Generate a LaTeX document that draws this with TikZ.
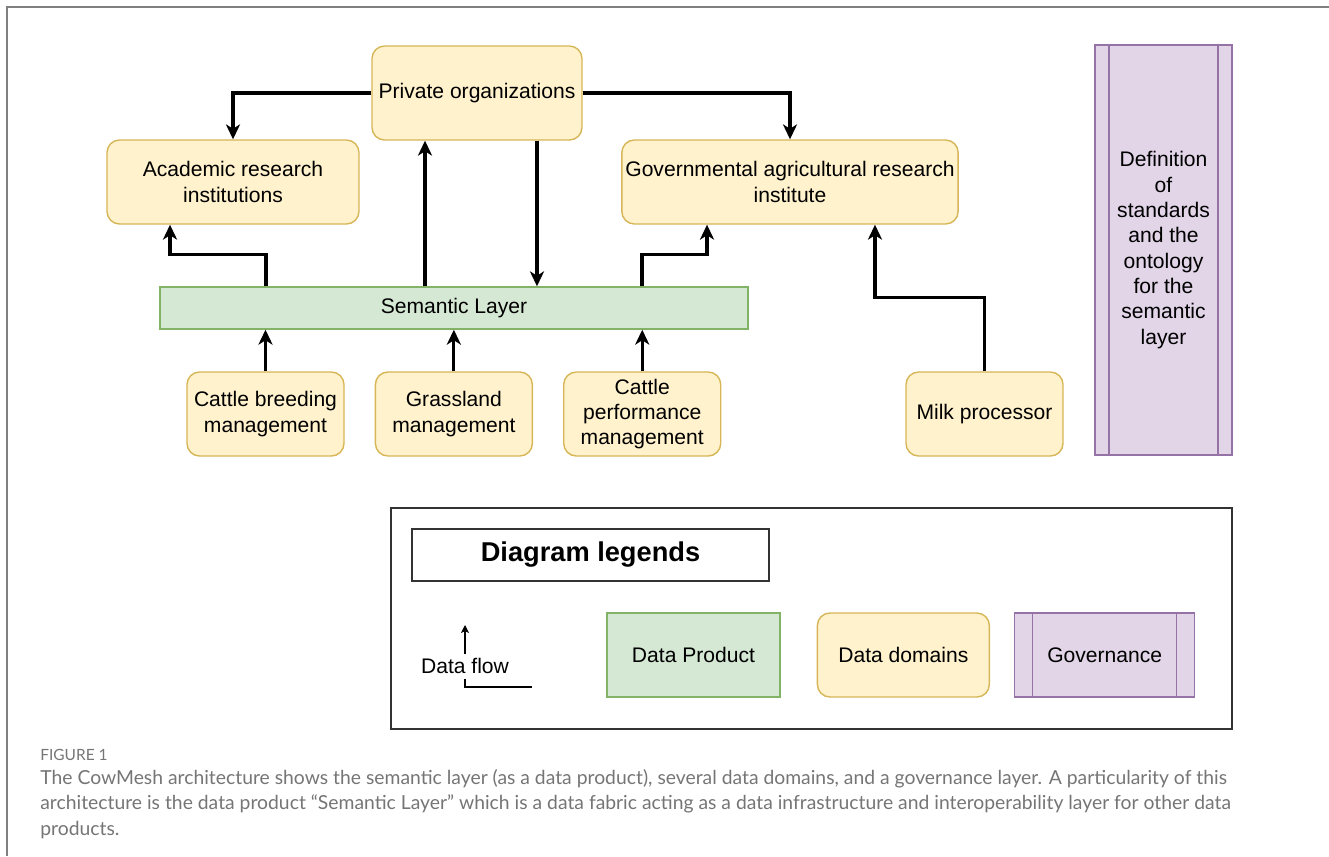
\documentclass[tikz,border=0pt]{standalone}
\usepackage{fontspec}
\setmainfont{Liberation Sans}
\newfontfamily\captionfont{Lato}
\usetikzlibrary{arrows.meta, positioning, calc}

\definecolor{domainfill}{HTML}{FFF2CC}
\definecolor{domainline}{HTML}{D6B656}
\definecolor{productfill}{HTML}{D5E8D4}
\definecolor{productline}{HTML}{82B366}
\definecolor{govfill}{HTML}{E1D5E7}
\definecolor{govline}{HTML}{9673A6}
\definecolor{captiongray}{HTML}{757575}

\begin{document}
\begin{tikzpicture}[
    x=0.02cm, y=-0.02cm,
    font=\fontsize{12}{14.4}\selectfont,
    domainbox/.style={rectangle, draw=domainline, line width=0.8pt, rounded corners=0.25cm, fill=domainfill, align=center, inner sep=2pt},
    product/.style={rectangle, draw=productline, line width=0.8pt, fill=productfill, align=center},
    govbox/.style={rectangle, draw=govline, line width=0.8pt, fill=govfill, align=center,
      path picture={\draw[govline, line width=0.8pt]
        ($(path picture bounding box.north west)+(#1,0)$) -- ($(path picture bounding box.south west)+(#1,0)$)
        ($(path picture bounding box.north east)-(#1,0)$) -- ($(path picture bounding box.south east)-(#1,0)$);}},
    frame/.style={rectangle, draw=black!80, line width=0.9pt},
    arrow/.style={-{Stealth[length=8.5pt, width=8pt, inset=2.5pt]}, line width=1.8pt},
    thinarrow/.style={-{Stealth[length=4.5pt, width=4.5pt, inset=1pt]}, line width=0.6pt}
  ]
  \useasboundingbox (0,0) rectangle (1329,856);
  \draw[black!50, line width=1.1pt] (7,856) -- (7,7) -- (1329,7);

  % data domains and the semantic layer
  \node[domainbox, minimum width=4.2cm, minimum height=1.88cm] (private) at (477,93) {Private organizations};
  \node[domainbox, minimum width=5.04cm, minimum height=1.68cm] (academic) at (233,182) {Academic research\\institutions};
  \node[domainbox, minimum width=6.72cm, minimum height=1.68cm] (govinst) at (790,182) {Governmental agricultural research\\institute};
  \node[product, minimum width=11.76cm, minimum height=0.84cm] (semantic) at (454,308) {Semantic Layer};
  \node[domainbox, minimum width=3.14cm, minimum height=1.68cm] (breeding) at (265.5,414) {Cattle breeding\\management};
  \node[domainbox, minimum width=3.14cm, minimum height=1.68cm, right=0.6cm of breeding] (grassland) {Grassland\\management};
  \node[domainbox, minimum width=3.14cm, minimum height=1.68cm, right=0.6cm of grassland] (performance) {Cattle\\performance\\management};
  \node[domainbox, minimum width=3.14cm, minimum height=1.68cm] (milk) at (984.5,414) {Milk processor};
  \node[govbox=14, minimum width=2.74cm, minimum height=8.2cm] (standards) at (1163.5,250) {Definition\\of\\standards\\and the\\ontology\\for the\\semantic\\layer};

  \draw[arrow] (private.west) -| (academic.north);
  \draw[arrow] (private.east) -| (govinst.north);
  \draw[arrow] ([xshift=-0.58cm]semantic.north) -- ([xshift=-0.58cm]semantic.north |- private.south);
  \draw[arrow] ([xshift=1.2cm]private.south) -- ([xshift=1.2cm]private.south |- semantic.north);
  \draw[arrow] ([xshift=-3.76cm]semantic.north) -- ++(0,0.64cm) -| ([xshift=-1.26cm]academic.south);
  \draw[arrow] ([xshift=3.76cm]semantic.north) -- ++(0,0.64cm) -| ([xshift=-1.66cm]govinst.south);
  \foreach \src in {breeding, grassland, performance}
    \draw[arrow] (\src.north) -- (\src.north |- semantic.south);
  \draw[arrow] (milk.north) -- ++(0,1.48cm) -| ([xshift=1.7cm]govinst.south);

  % legend
  \node[frame, minimum width=16.82cm, minimum height=4.42cm] (legend) at (811.5,618.5) {};
  \node[frame, minimum width=7.14cm, minimum height=1.04cm, font=\fontsize{15.5}{18}\selectfont\bfseries] (legendtitle) at (590.5,555) {Diagram legends};
  \node[inner sep=2pt] (flowlabel) at (465,666) {Data flow};
  \coordinate (flowtip) at (465,625);
  \draw[thinarrow] (flowlabel.north) -- (flowtip);
  \draw[line width=0.6pt] (465,679) -- (465,687) -- (532,687);
  \node[product, minimum width=3.46cm, minimum height=1.68cm] (dataproduct) at (693.5,655) {Data Product};
  \node[domainbox, minimum width=3.44cm, minimum height=1.68cm, right=0.72cm of dataproduct] (datadomains) {Data domains};
  \node[govbox=18, minimum width=3.6cm, minimum height=1.68cm, right=0.48cm of datadomains] (governance) {Governance};

  % caption
  \node[anchor=west, inner sep=0pt, text=captiongray, font=\captionfont\fontsize{8.8}{11}\selectfont] (figlabel) at (40,755) {FIGURE 1};
  \node[anchor=north west, inner sep=0pt, align=left, text=captiongray, font=\captionfont\fontsize{11}{14.5}\selectfont] (caption) at (40,769) {The CowMesh architecture shows the semantic layer (as a data product), several data domains, and a governance layer. A particularity of this\\architecture is the data product “Semantic Layer” which is a data fabric acting as a data infrastructure and interoperability layer for other data\\products.};
\end{tikzpicture}
\end{document}
